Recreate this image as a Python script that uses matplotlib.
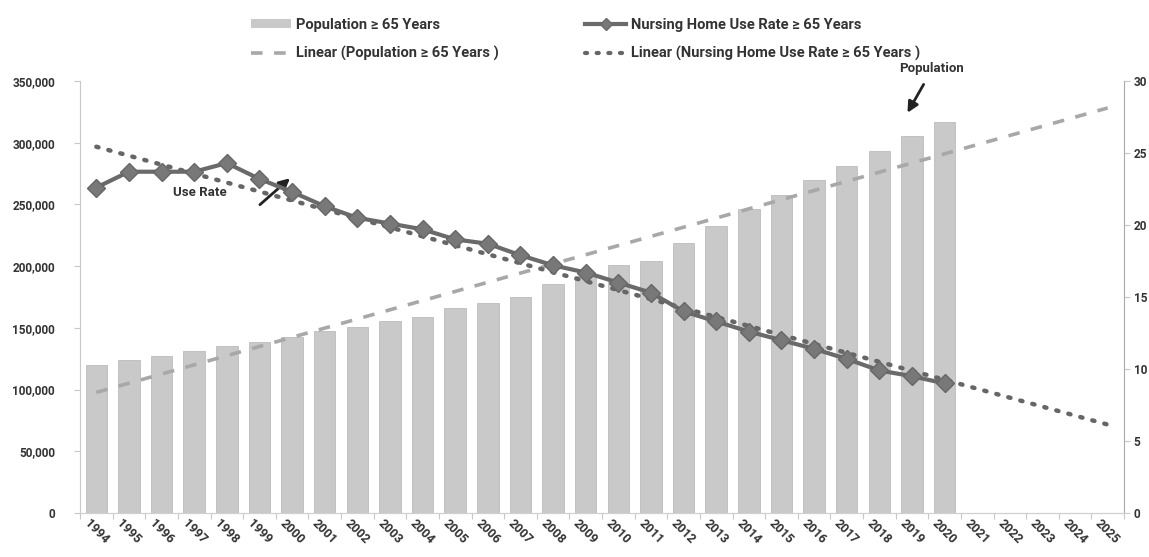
import matplotlib
matplotlib.use("Agg")
import matplotlib.pyplot as plt
import matplotlib.transforms as mtransforms
from matplotlib.lines import Line2D
from matplotlib.patches import Patch
import numpy as np

plt.rcParams['font.family'] = ['Roboto', 'DejaVu Sans']
plt.rcParams['font.weight'] = 'bold'

years = [str(y) for y in range(1994, 2026)]
population = [120300, 124300, 127600, 131400, 135200, 138400, 142800, 147400,
              150900, 155500, 159000, 165900, 170000, 175300, 185400, 192000,
              201100, 203800, 218800, 232900, 245900, 257300, 269500, 281200,
              293400, 305600, 317000]
use_rate = [22.6, 23.7, 23.7, 23.7, 24.3, 23.2, 22.3, 21.3, 20.5, 20.1, 19.7,
            19.0, 18.7, 17.9, 17.2, 16.7, 16.0, 15.3, 14.0, 13.3, 12.6, 12.0,
            11.4, 10.7, 9.9, 9.5, 9.0]
left_ticks = [0, 50000, 100000, 150000, 200000, 250000, 300000, 350000]
right_ticks = [0, 5, 10, 15, 20, 25, 30]

lab_pop = "Population \u2265 65 Years"
lab_rate = "Nursing Home Use Rate \u2265 65 Years"
lab_lpop = "Linear (Population \u2265 65 Years )"
lab_lrate = "Linear (Nursing Home Use Rate \u2265 65 Years )"

W, H = 1149, 557
fig = plt.figure(figsize=(W / 100, H / 100), dpi=100)
ax = fig.add_axes([80 / W, (H - 513) / H, (1124 - 80) / W, (513 - 81) / H])
ax2 = ax.twinx()

n_all = len(years)
x_all = np.arange(n_all)
x_dat = np.arange(len(population))

text_col = '#333333'
bar_col = '#c9c9c9'

ax.bar(x_dat, population, width=0.66, color=bar_col, edgecolor='#bcbcbc',
       linewidth=0.6, zorder=2)

cp = np.polyfit(x_dat, population, 1)
ax.plot(x_all, np.polyval(cp, x_all), color='#a8a8a8', lw=2.6,
        dashes=(3.2, 3.2), zorder=3)

ax.set_xlim(-0.5, n_all - 0.5)
ax.set_ylim(0, 350000)
ax.set_yticks(left_ticks)
ax.set_yticklabels([f"{v:,}" for v in left_ticks])

cr = np.polyfit(x_dat, use_rate, 1)
ax2.plot(x_all, np.polyval(cr, x_all), color='#666666', lw=3.2,
         linestyle=(0, (0.5, 2.3)), dash_capstyle='round', zorder=4)
ax2.plot(x_dat, use_rate, color='#6a6a6a', lw=3.0, marker='D', markersize=9,
         markerfacecolor='#787878', markeredgecolor='#676767', zorder=5)
ax2.set_ylim(0, 30)
ax2.set_yticks(right_ticks)

ax.set_xticks(x_all)
ax.set_xticklabels(years, rotation=-45, ha='center', va='top', fontsize=9,
                   color=text_col, fontweight='bold')
offset = mtransforms.ScaledTranslation(8 / 100, 0, fig.dpi_scale_trans)
for lbl in ax.get_xticklabels():
    lbl.set_transform(lbl.get_transform() + offset)
ax.tick_params(axis='x', which='major', length=0, pad=3)
ax.set_xticks(np.arange(-0.5, n_all, 1), minor=True)
ax.tick_params(axis='x', which='minor', length=4, color='#c8c8c8', width=0.8)

ax.tick_params(axis='y', length=4, color='#c8c8c8', labelsize=8.5,
               labelcolor=text_col, pad=14)
for lbl in ax.get_yticklabels():
    lbl.set_fontweight('bold')
ax2.tick_params(axis='y', length=4, color='#c8c8c8', labelsize=8.5,
                labelcolor=text_col, pad=3)
for lbl in ax2.get_yticklabels():
    lbl.set_fontweight('bold')

for a in (ax, ax2):
    a.spines['top'].set_visible(False)
    a.spines['left'].set_color('#c8c8c8')
    a.spines['right'].set_color('#a8a8a8')
    a.spines['bottom'].set_color('#d0d0d0')
ax2.spines['left'].set_visible(False)
ax.spines['right'].set_visible(False)

ax.annotate("", xy=(6.0, 272700), xytext=(4.95, 248300),
            arrowprops=dict(arrowstyle='-|>', color='#222222', lw=2,
                            mutation_scale=16), zorder=6)
ax.text(3.18, 259700, "Use Rate", ha='center', va='center', fontsize=9.5,
        color=text_col, fontweight='bold')
ax.annotate("", xy=(24.82, 322300), xytext=(25.4, 349200),
            arrowprops=dict(arrowstyle='-|>', color='#222222', lw=2,
                            mutation_scale=16), annotation_clip=False)
ax.text(25.6, 359800, "Population", ha='center', va='center', fontsize=9.5,
        color=text_col, fontweight='bold', clip_on=False)

handles = [
    Patch(facecolor=bar_col, edgecolor='none'),
    Line2D([], [], color='#a8a8a8', lw=2.6, dashes=(3.2, 3.2)),
    Line2D([], [], color='#6a6a6a', lw=3, marker='D', markersize=6,
           markerfacecolor='#787878'),
    Line2D([], [], color='#666666', lw=3, linestyle=(0, (0.5, 2.3)),
           dash_capstyle='round'),
]
labels = [lab_pop, lab_lpop, lab_rate, lab_lrate]
leg = fig.legend(handles, labels, loc='upper left', ncol=2,
                 bbox_to_anchor=(233 / W, 1.0), frameon=False,
                 prop={'size': 10.5, 'weight': 'bold'}, handlelength=2.8,
                 handleheight=0.6,
                 columnspacing=5.9, labelspacing=1.0, handletextpad=0.35,
                 borderaxespad=0.8)
for t in leg.get_texts():
    t.set_color(text_col)

fig.savefig("out.png", dpi=100)
